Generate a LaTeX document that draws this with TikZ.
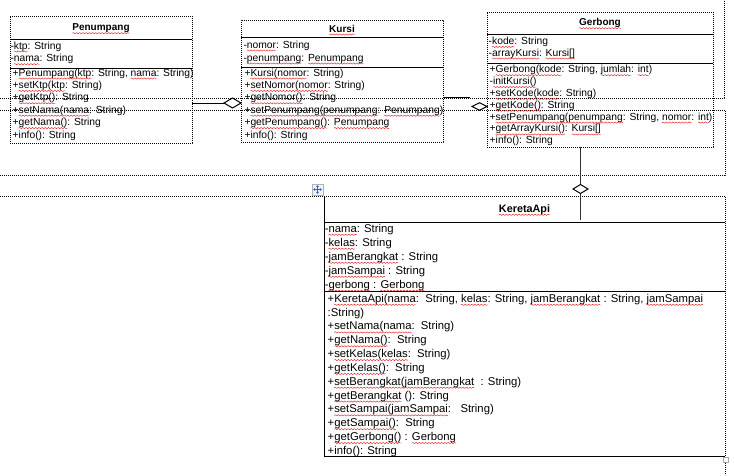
\documentclass[tikz,border=0pt]{standalone}
\usepackage{fontspec}
\setmainfont{Liberation Sans}
\usetikzlibrary{decorations.pathmorphing,arrows.meta}

\definecolor{handleblue}{RGB}{45,100,205}

% red wavy spell-check mark under a word
\newsavebox\sqbox
\newlength\sqlen
\newcommand\sq[1]{\sbox\sqbox{#1}\setlength\sqlen{\wd\sqbox}%
  \rlap{\tikz[overlay]\draw[sqline] (0pt,-2.5pt) -- (\sqlen,-2.5pt);}\usebox\sqbox}

\tikzset{
  sqline/.style={red!90!black, line width=0.35pt, decorate,
    decoration={snake, segment length=3.2pt, amplitude=0.65pt}},
  gridline/.style={line width=0.9pt, dash pattern=on 0.9pt off 1.1pt},
  divider/.style={line width=1pt},
  conn/.style={line width=1pt},
  clsbox/.style={draw, gridline, rectangle, inner sep=0pt, outer sep=0pt, anchor=north west},
  mem/.style={anchor=base west, inner sep=0pt, font=\fontsize{10.3}{12}\selectfont},
  memk/.style={anchor=base west, inner sep=0pt, font=\fontsize{11.3}{13}\selectfont},
  ttl/.style={anchor=base, inner sep=0pt, font=\fontsize{10}{12}\selectfont\bfseries},
  ttlk/.style={anchor=base, inner sep=0pt, font=\fontsize{10.8}{13}\selectfont\bfseries},
}

\begin{document}
\begin{tikzpicture}[x=1pt, y=-1pt]
\fill[white] (0,0) rectangle (734,475);
\useasboundingbox (0,0) rectangle (734,475);

% dotted table gridlines
\draw[gridline] (0,98) -- (724,98) -- (724,0);
\draw[gridline] (0,110) -- (725,110) -- (725,175) -- (0,175);
\draw[gridline] (0,196) -- (725,196) -- (725,475);

% class frames
\node[clsbox, minimum width=182pt, minimum height=127pt] (pen) at (10,16) {};
\node[clsbox, minimum width=202pt, minimum height=122pt] (kur) at (241,20) {};
\node[clsbox, minimum width=226pt, minimum height=135pt] (ger) at (487,12) {};
\node[inner sep=0pt, outer sep=0pt, minimum width=401pt, minimum height=260pt, anchor=north west] (ka) at (324,196) {};
\draw[divider] (ka.north west) -- (ka.south west) -- (ka.south east);

% compartment dividers
\draw[divider] (pen.west |- 0,39) -- (pen.east |- 0,39);
\draw[divider] (pen.west |- 0,68) -- (pen.east |- 0,68);
\draw[divider] (kur.west |- 0,37) -- (kur.east |- 0,37);
\draw[divider] (kur.west |- 0,67) -- (kur.east |- 0,67);
\draw[divider] (ger.west |- 0,34) -- (ger.east |- 0,34);
\draw[divider] (ger.west |- 0,63) -- (ger.east |- 0,63);
\draw[divider] (ka.west |- 0,222) -- (ka.east |- 0,222);
\draw[divider] (ka.west |- 0,291) -- (ka.east |- 0,291);

% class names
\node[ttl] (penT) at (101,30.7) {\sq{Penumpang}};
\node[ttl] (kurT) at (342,32) {\sq{Kursi}};
\node[ttl] (gerT) at (600,25.7) {\sq{Gerbong}};
\node[ttlk] (kaT) at (524.5,212.3) {\sq{KeretaApi}};

% Penumpang members
\foreach \t [count=\i from 0] in {{-\sq{ktp}: String},{-\sq{nama}: String}}
  \node[mem] (penA\i) at (10.3,{49+12.7*\i}) {\t};
\foreach \t [count=\i from 0] in {
  {+\sq{Penumpang(ktp}: String, \sq{nama}: String)},
  {+\sq{setKtp(ktp}: String)},
  {+\sq{getKtp()}: String},
  {+\sq{setNama(nama}: String)},
  {+\sq{getNama()}: String},
  {+info(): String}}
  \node[mem] (penM\i) at (12.5,{76+12.4*\i}) {\t};

% Kursi members
\foreach \t [count=\i from 0] in {{-\sq{nomor}: String},{-\sq{penumpang}: \sq{Penumpang}}}
  \node[mem] (kurA\i) at (243.3,{48+13*\i}) {\t};
\foreach \t [count=\i from 0] in {
  {+\sq{Kursi(nomor}: String)},
  {+\sq{setNomor(nomor}: String)},
  {+\sq{getNomor()}: String},
  {+\sq{setPenumpang(penumpang}: \sq{Penumpang})},
  {+\sq{getPenumpang()}: \sq{Penumpang}},
  {+info(): String}}
  \node[mem] (kurM\i) at (244.3,{76+12.4*\i}) {\t};

% Gerbong members
\foreach \t [count=\i from 0] in {{-\sq{kode}: String},{-\sq{arrayKursi}: \sq{Kursi[]}}}
  \node[mem] (gerA\i) at (488.5,{44.4+11.6*\i}) {\t};
\foreach \t [count=\i from 0] in {
  {+\sq{Gerbong(kode}: String, \sq{jumlah}: \sq{int})},
  {-\sq{initKursi()}},
  {+\sq{setKode(kode}: String)},
  {+\sq{getKode()}: String},
  {+\sq{setPenumpang(penumpang}: String, \sq{nomor}: \sq{int})},
  {+\sq{getArrayKursi()}: \sq{Kursi[]}},
  {+info(): String}}
  \node[mem] (gerM\i) at (489.5,{72.7+11.85*\i}) {\t};

% KeretaApi members
\foreach \t [count=\i from 0] in {
  {-\sq{nama}: String},
  {-\sq{kelas}: String},
  {-\sq{jamBerangkat}\ : String},
  {-\sq{jamSampai}\ : String},
  {-\sq{gerbong} : \sq{Gerbong}}}
  \node[memk] (kaA\i) at (324.6,{232.3+14*\i}) {\t};
\foreach \t [count=\i from 0] in {
  {+\sq{KeretaApi(nama}:\ \ String, \sq{kelas}: String, \sq{jamBerangkat}\ : String, \sq{jamSampai}},
  {:String)},
  {+\sq{setNama(nama}:\ \ String)},
  {+\sq{getNama()}:\ \ String},
  {+\sq{setKelas(kelas}:\ \ String)},
  {+\sq{getKelas()}:\ \ String},
  {+\sq{setBerangkat(jamBerangkat}\ \ : String)},
  {+\sq{getBerangkat}\ (): String},
  {+\sq{setSampai(jamSampai}:\ \ \ String)},
  {+\sq{getSampai()}:\ \ String},
  {+\sq{getGerbong()} : \sq{Gerbong}},
  {+info(): String}}
  \node[memk] (kaM\i) at (327.5,{302.3+13.82*\i}) {\t};

% Penumpang -- Kursi aggregation
\draw[conn] (pen.east |- 0,103) -- (kur.west |- 0,103);
\draw[conn, fill=white] (kur.west |- 0,103) -- ++(-8.5,-5) -- ++(-8.5,5) -- ++(8.5,5) -- cycle;

% Kursi -- Gerbong aggregation
\coordinate (kgEnd) at (470,97);
\draw[conn] (kur.east |- 0,97) -- (kgEnd);
\draw[conn, fill=white] (ger.west |- 0,106.5) -- ++(-7.5,-3.8) -- ++(-7.5,3.8) -- ++(7.5,3.8) -- cycle;

% Gerbong -- KeretaApi aggregation
\coordinate (gkEnd) at (580.5,220);
\coordinate (gkDia) at (580.5,189);
\draw[conn, black!80] (580.5,0 |- ger.south) -- (gkEnd);
\draw[conn, fill=white] (gkDia) ++(0,-4.5) -- ++(7.5,4.5) -- ++(-7.5,4.5) -- ++(-7.5,-4.5) -- cycle;

% table move handle
\node[draw=gray!60, fill=gray!10, minimum size=11pt, inner sep=0pt, outer sep=0pt] (mv) at (317.5,189.5) {};
\draw[handleblue, line width=0.8pt, {Stealth[length=2pt,width=3pt]}-{Stealth[length=2pt,width=3pt]}] (mv.center) ++(0,-4.3) -- ++(0,8.6);
\draw[handleblue, line width=0.8pt, {Stealth[length=2pt,width=3pt]}-{Stealth[length=2pt,width=3pt]}] (mv.center) ++(-4.3,0) -- ++(8.6,0);

% table resize handle
\node[draw=gray!70, fill=white, minimum size=5.5pt, inner sep=0pt, outer sep=0pt, line width=0.7pt] (rs) at (726,460) {};
\end{tikzpicture}
\end{document}
